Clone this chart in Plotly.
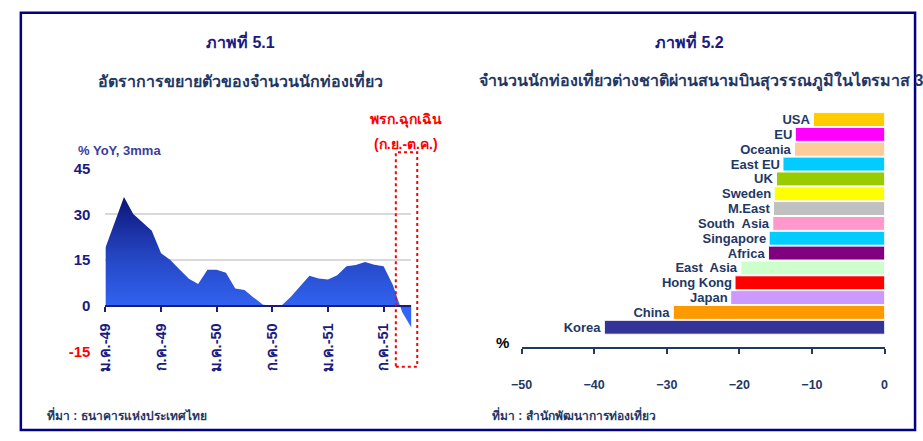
import plotly.graph_objects as go

# ---- chart 5.1 : tourist growth, % YoY 3mma, Jan-49 .. Oct-51
MONTH_NAMES = ["ม.ค.", "ก.พ.", "มี.ค.", "เม.ย.", "พ.ค.", "มิ.ย.",
               "ก.ค.", "ส.ค.", "ก.ย.", "ต.ค.", "พ.ย.", "ธ.ค."]
months = [f"{m}-{yy}" for yy in (49, 50, 51) for m in MONTH_NAMES][:34]
yoy = [19.0, 27.5, 35.7, 30.1, 27.2, 24.6, 17.2, 15.0, 11.9, 8.8, 7.1, 11.8,
       11.8, 10.8, 5.6, 5.1, 2.6, 0.3, 0.0, 0.0, 2.9, 6.2, 9.8, 8.9,
       8.6, 10.0, 12.9, 13.3, 14.3, 13.4, 12.9, 6.8, -2.1, -7.3]
month_idx = list(range(len(months)))
tick_idx = month_idx[::6]
y_ticks = [-15, 0, 15, 30, 45]
y_ticktext = ["<span style='color:#ff0000'>-15</span>", "0", "15", "30", "45"]

# ---- chart 5.2 : foreign arrivals via Suvarnabhumi, Q3 % change
regions = ["Korea", "China", "Japan", "Hong Kong", "East  Asia", "Africa",
           "Singapore", "South  Asia", "M.East", "Sweden", "UK", "East EU",
           "Oceania", "EU", "USA"]
change = [-38.6, -29.1, -21.2, -20.6, -19.8, -16.0, -15.9, -15.4, -15.3,
          -15.2, -14.9, -14.0, -12.4, -12.3, -9.8]
bar_colours = ["#333399", "#FF9900", "#CC99FF", "#FF0000", "#CCFFCC", "#800080",
               "#00CCFF", "#FF99CC", "#C0C0C0", "#FFFF00", "#99CC00", "#00CCFF",
               "#FFCC99", "#FF00FF", "#FFCC00"]

NAVY = "#1a1a80"
SLATE = "#1f3864"
FONT = "Tahoma, Arial, sans-serif"

fig = go.Figure()

fig.add_trace(go.Scatter(
    x=month_idx, y=yoy, mode="lines", fill="tozeroy",
    line=dict(width=0, color="#3060f0"),
    fillgradient=dict(type="vertical", start=0, stop=36,
                      colorscale=[[0, "#3366f5"], [0.5, "#2444c0"], [1, "#0c1478"]]),
    xaxis="x", yaxis="y", showlegend=False, hoverinfo="skip",
))

fig.add_trace(go.Bar(
    x=change, y=regions, orientation="h",
    marker=dict(color=bar_colours, line=dict(color="white", width=1)),
    text=regions, textposition="outside", constraintext="none", cliponaxis=False,
    textfont=dict(family=FONT, size=13, color=SLATE, weight="bold"),
    xaxis="x2", yaxis="y2", showlegend=False, width=0.94, hoverinfo="skip",
))

axis_font = dict(family=FONT, size=14.5, color=NAVY, weight="bold")
zero_pos = 0.1927 + (0.6236 - 0.1927) * 15 / 60

fig.update_layout(
    width=923, height=441,
    margin=dict(l=0, r=0, t=0, b=0),
    paper_bgcolor="white", plot_bgcolor="white",
    font=dict(family=FONT),
    xaxis=dict(
        domain=[0.104, 0.441], anchor="free", position=zero_pos,
        range=[0, len(months) - 1], tickvals=tick_idx,
        ticktext=[months[i] for i in tick_idx], tickangle=-90,
        ticks="outside", ticklen=5, tickwidth=1.5, tickcolor=NAVY,
        showline=True, linecolor=NAVY, linewidth=2,
        showgrid=False, zeroline=False, tickfont=axis_font, ticklabelstandoff=6,
    ),
    xaxis3=dict(
        overlaying="x", anchor="free", position=zero_pos,
        range=[0, len(months) - 1], tickvals=tick_idx,
        ticks="inside", ticklen=5, tickwidth=1.5, tickcolor=NAVY,
        showticklabels=False, showline=False, showgrid=False, zeroline=False,
    ),
    yaxis=dict(
        domain=[0.1927, 0.6236], anchor="x", range=[-15, 45],
        tickvals=y_ticks, ticktext=y_ticktext,
        tickfont=dict(family=FONT, size=15, color=NAVY, weight="bold"),
        showgrid=True, gridcolor="#d9d9d9", gridwidth=2,
        zeroline=False, showline=False, ticks="", ticklabelstandoff=14,
    ),
    xaxis2=dict(
        domain=[0.5623, 0.9621], anchor="y2", range=[-50, 0],
        tickvals=[-50, -40, -30, -20, -10, 0],
        ticks="outside", ticklen=5, tickcolor=SLATE, tickwidth=1.5,
        showline=True, linecolor=SLATE, linewidth=1.5,
        showgrid=False, zeroline=False, ticklabelstandoff=20,
        tickfont=dict(family=FONT, size=12.5, color=SLATE, weight="bold"),
    ),
    yaxis2=dict(
        domain=[0.2018, 0.7567], anchor="x2", type="category",
        categoryorder="array", categoryarray=regions,
        range=[-1.36, len(regions) - 0.5],
        showticklabels=False, showgrid=False, showline=False, zeroline=False,
    ),
)

# outer frame and the emergency-decree window
fig.add_shape(type="rect", xref="paper", yref="paper",
              x0=10 / 923, x1=919 / 923, y0=3 / 441, y1=1 - 4 / 441,
              line=dict(color="#000080", width=2.5))
fig.add_shape(type="rect", xref="x domain", yref="y domain",
              x0=0.949, x1=1.019, y0=-0.084, y1=1.089,
              line=dict(color="#ff0000", width=2, dash="dot"))

def note(text, x, y, size, color, xanchor="center"):
    fig.add_annotation(text=text, x=x, y=y, xref="paper", yref="paper",
                       xanchor=xanchor, yanchor="middle", showarrow=False,
                       font=dict(family=FONT, size=size, color=color, weight="bold"))

note("ภาพที่ 5.1", 0.2524, 1 - 33 / 441, 16, NAVY)
note("อัตราการขยายตัวของจำนวนนักท่องเที่ยว", 0.2524, 1 - 74 / 441, 16, SLATE)
note("% YoY, 3mma", 66 / 923, 1 - 147 / 441, 13, "#3d3d99", "left")
note("พรก.ฉุกเฉิน", 402 / 923, 1 - 115 / 441, 14, "#ff0000")
note("(ก.ย.-ต.ค.)", 402 / 923, 1 - 140 / 441, 14, "#ff0000")
note("ที่มา : ธนาคารแห่งประเทศไทย", 35 / 923, 1 - 422 / 441, 12, SLATE, "left")

note("ภาพที่ 5.2", 0.7476, 1 - 33 / 441, 16, NAVY)
note("จำนวนนักท่องเที่ยวต่างชาติผ่านสนามบินสุวรรณภูมิในไตรมาส 3", 474 / 923, 1 - 74 / 441, 16, SLATE, "left")
note("%", 500 / 923, 1 - 347 / 441, 15, "black")
note("ที่มา : สำนักพัฒนาการท่องเที่ยว", 487 / 923, 1 - 422 / 441, 12, SLATE, "left")

# pin the figure to the top-left corner of the page so nothing scrolls
PIN_JS = (
    "document.documentElement.style.margin='0';"
    "document.body.style.margin='0';document.body.style.overflow='hidden';"
    "var d=document.querySelector('.plotly-graph-div');"
    "d.style.position='fixed';d.style.left='0px';d.style.top='0px';"
)
fig.write_html("out.html", config={"displayModeBar": False}, post_script=PIN_JS)
